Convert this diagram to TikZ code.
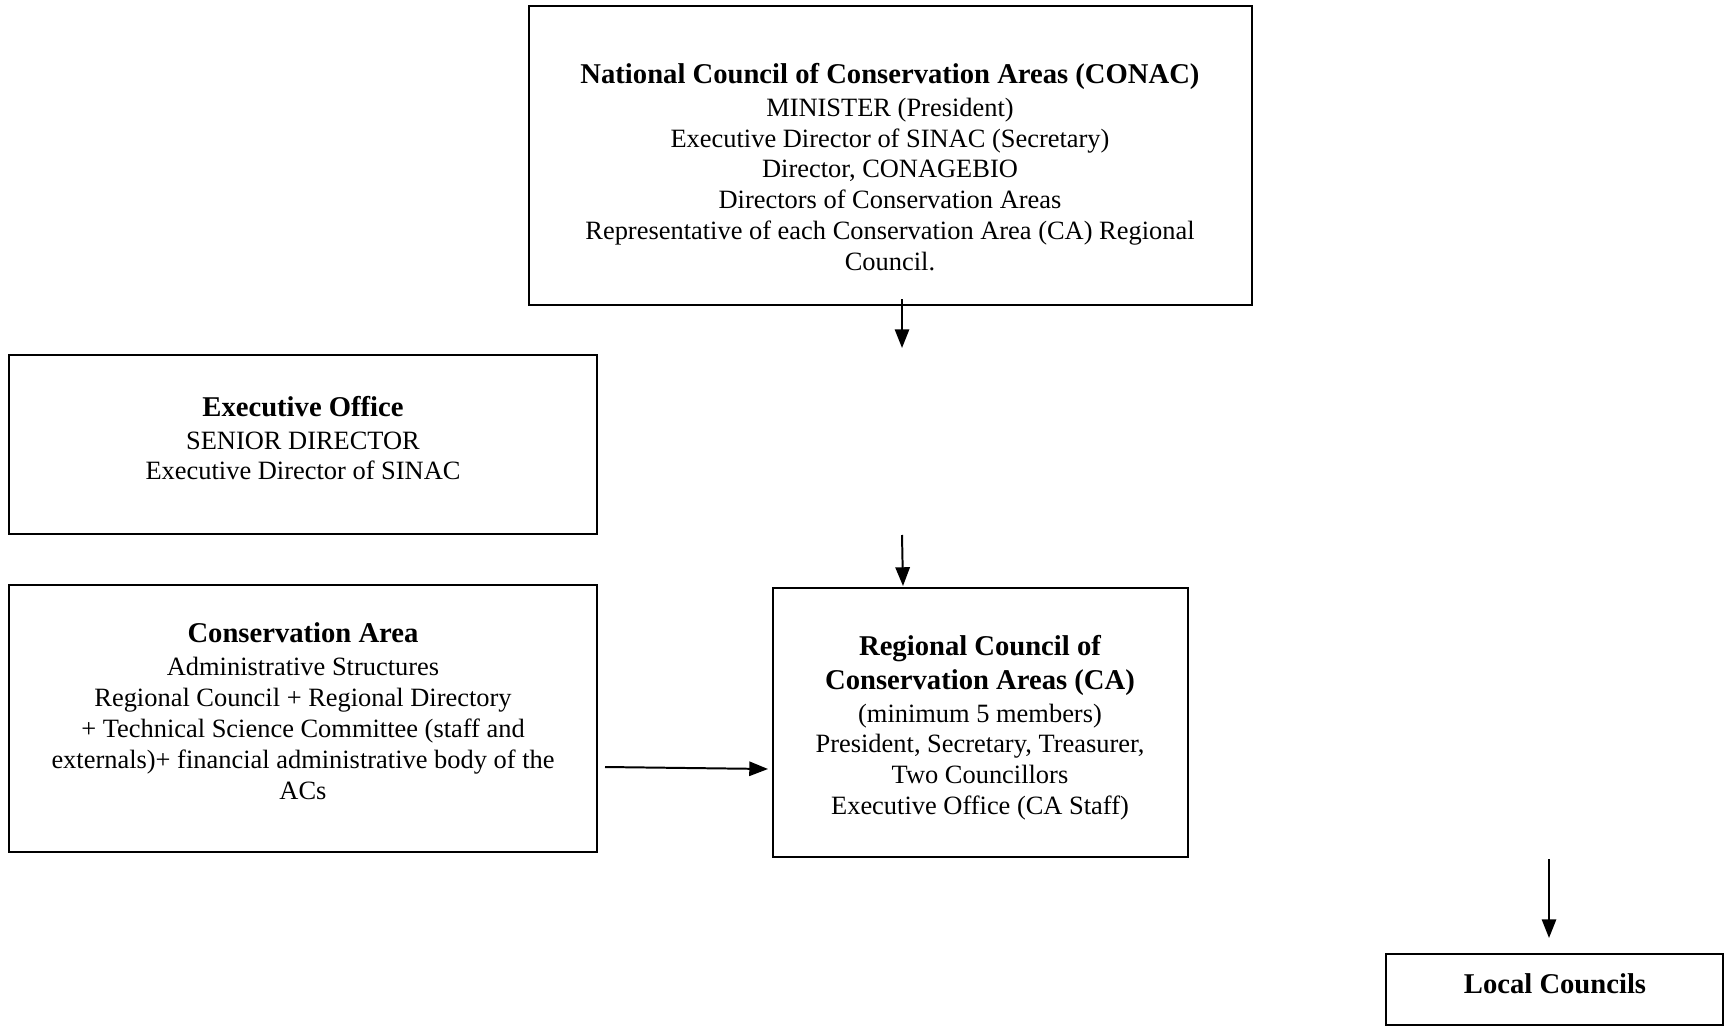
\documentclass[tikz,border=0pt]{standalone}
\usepackage{fontspec}
\setmainfont{Liberation Serif}
\usetikzlibrary{arrows.meta}
\newcommand{\hd}[1]{{\bfseries\fontsize{13}{15}\selectfont #1}}
\begin{document}
\begin{tikzpicture}[x=0.454pt,y=-0.454pt,
  box/.style={draw, line width=0.9pt, inner sep=0pt, outer sep=0pt},
  txt/.style={align=center, inner sep=0pt, font=\fontsize{12}{14}\selectfont},
  arr/.style={line width=0.9pt, -{Triangle[length=8.5pt,width=6.5pt]}}]
\useasboundingbox (0,0) rectangle (1727,1027);
% boxes
\node[box, minimum width=723*0.454pt, minimum height=299*0.454pt] (conac) at (890.5,155.5) {};
\node[box, minimum width=588*0.454pt, minimum height=179*0.454pt] (exec) at (303,444.5) {};
\node[box, minimum width=588*0.454pt, minimum height=267*0.454pt] (cons) at (303,718.5) {};
\node[box, minimum width=415*0.454pt, minimum height=269*0.454pt] (reg) at (980.5,722.5) {};
\node[box, minimum width=337*0.454pt, minimum height=71*0.454pt] (local) at (1554.5,989.5) {};
% texts
\node[txt] (conact) at (890,167) {\hd{National Council of Conservation Areas (CONAC)}\\[1pt]
MINISTER (President)\\
Executive Director of SINAC (Secretary)\\
Director, CONAGEBIO\\
Directors of Conservation Areas\\
Representative of each Conservation Area (CA) Regional\\
Council.};
\node[txt] (exect) at (303,438) {\hd{Executive Office}\\[1pt]
SENIOR DIRECTOR\\
Executive Director of SINAC};
\node[txt] (const) at (303,711) {\hd{Conservation Area}\\[1pt]
Administrative Structures\\
Regional Council + Regional Directory\\
+ Technical Science Committee (staff and\\
externals)+ financial administrative body of the\\
ACs};
\node[txt] (regt) at (980,728) {\hd{Regional Council of}\\[1pt]
\hd{Conservation Areas (CA)}\\[1pt]
(minimum 5 members)\\
President, Secretary, Treasurer,\\
Two Councillors\\
Executive Office (CA Staff)};
\node[txt] (localt) at (1555,983.5) {\hd{Local Councils}};
% arrow end points
\coordinate (a1s) at (902,299);
\coordinate (a1e) at (902,348);
\coordinate (a2s) at (902,535);
\coordinate (a2e) at (903,586);
\coordinate (a3s) at (605,767);
\coordinate (a3e) at (768,769);
\coordinate (a4s) at (1549,859);
\coordinate (a4e) at (1549,938);
\draw[arr] (a1s) -- (a1e);
\draw[arr] (a2s) -- (a2e);
\draw[arr] (a3s) -- (a3e);
\draw[arr] (a4s) -- (a4e);
\end{tikzpicture}
\end{document}
